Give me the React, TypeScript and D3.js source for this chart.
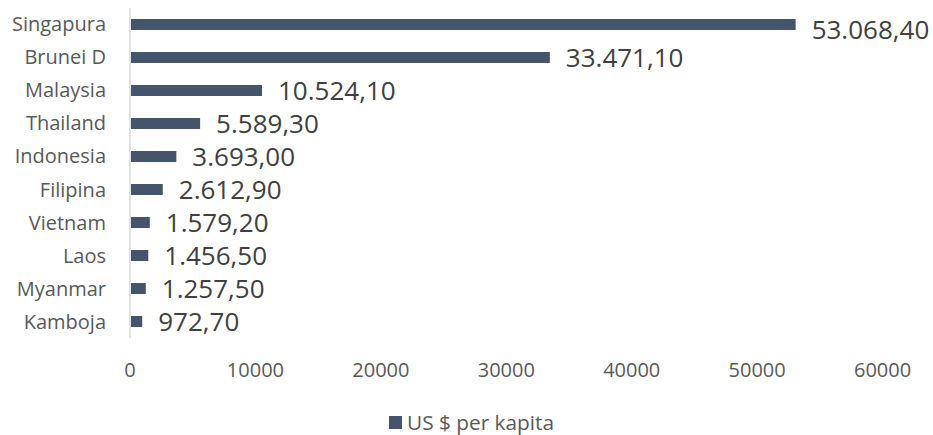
import React from "react";
import * as d3 from "d3";

const categories = ["Singapura", "Brunei D", "Malaysia", "Thailand", "Indonesia", "Filipina", "Vietnam", "Laos", "Myanmar", "Kamboja"];
const values = [53068.4, 33471.1, 10524.1, 5589.3, 3693.0, 2612.9, 1579.2, 1456.5, 1257.5, 972.7];
const ticks = [0, 10000, 20000, 30000, 40000, 50000, 60000];
const seriesName = "US $ per kapita";

const W = 933;
const H = 435;
const BAR = "#44546A";
const TXT = "#595959";
const FONT = "'Open Sans', sans-serif";

const fmt = (v: number) => {
  const [i, d] = v.toFixed(2).split(".");
  return i.replace(/\B(?=(\d{3})+(?!\d))/g, ".") + "," + d;
};

export default function App() {
  const x = d3.scaleLinear().domain([0, 60000]).range([130, 882.6]);
  const y = d3.scaleBand<string>().domain(categories).range([8, 338]).paddingInner(0.667).paddingOuter(0.333);
  return (
    <svg width={W} height={H} style={{ position: "absolute", left: 0, top: 0 }}>
      <rect width={W} height={H} fill="#fff" />
      <line x1={x(0)} x2={x(0)} y1={8} y2={338} stroke="#d9d9d9" strokeWidth={1.5} />
      {categories.map((c, i) => {
        const yc = (y(c) as number) + y.bandwidth() / 2;
        return (
          <g key={c}>
            <rect x={x(0) + 1} y={y(c)} width={x(values[i]) - x(0) - 1} height={y.bandwidth()} fill={BAR} />
            <text x={106} y={yc} dy="0.35em" textAnchor="end" fontFamily={FONT} fontSize={20} fill={TXT}>{c}</text>
            <text x={x(values[i]) + 16} y={Math.max(yc, 30)} dy="0.36em" fontFamily={FONT} fontSize={26} fill="#404040">{fmt(values[i])}</text>
          </g>
        );
      })}
      {ticks.map((t) => (
        <text key={t} x={x(t)} y={370} dy="0.35em" textAnchor="middle" fontFamily={FONT} fontSize={20} fill={TXT}>{t}</text>
      ))}
      <rect x={389} y={416} width={13} height={13} fill={BAR} />
      <text x={407} y={423} dy="0.35em" fontFamily={FONT} fontSize={20.8} fill={TXT}>{seriesName}</text>
    </svg>
  );
}
